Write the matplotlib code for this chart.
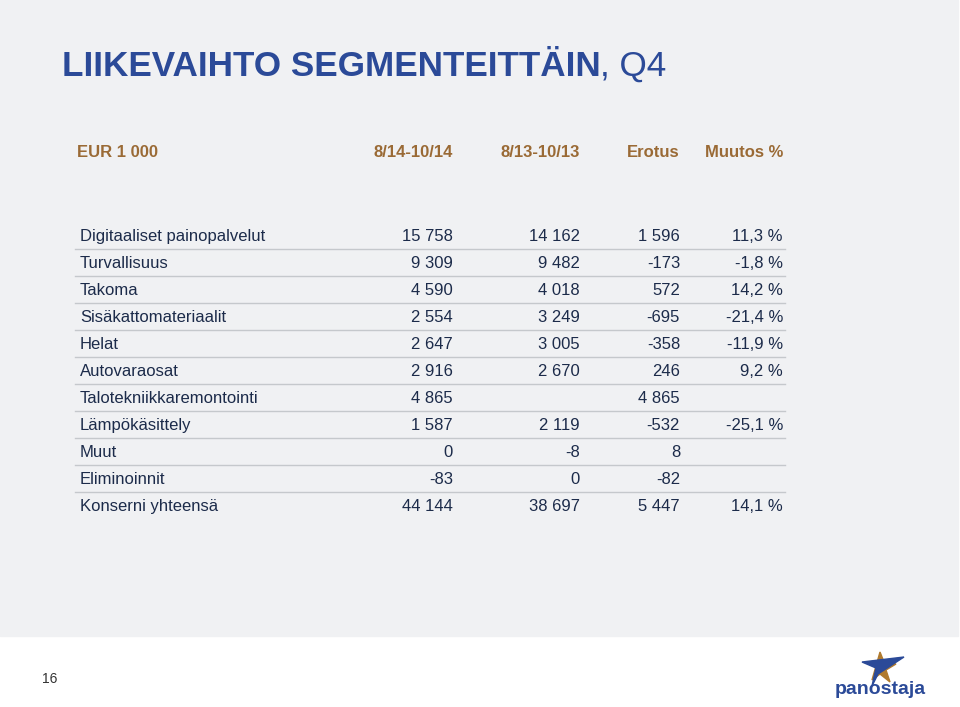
import matplotlib
matplotlib.use('Agg')
import matplotlib.pyplot as plt
from matplotlib.patches import Rectangle, Polygon

W, H = 960, 707

headers = ['EUR 1 000', '8/14-10/14', '8/13-10/13', 'Erotus', 'Muutos %']
segments = ['Digitaaliset painopalvelut', 'Turvallisuus', 'Takoma', 'Sisäkattomateriaalit',
            'Helat', 'Autovaraosat', 'Talotekniikkaremontointi', 'Lämpökäsittely',
            'Muut', 'Eliminoinnit', 'Konserni yhteensä']
q4_2014 = ['15 758', '9 309', '4 590', '2 554', '2 647', '2 916', '4 865', '1 587', '0', '-83', '44 144']
q4_2013 = ['14 162', '9 482', '4 018', '3 249', '3 005', '2 670', '', '2 119', '-8', '0', '38 697']
erotus = ['1 596', '-173', '572', '-695', '-358', '246', '4 865', '-532', '8', '-82', '5 447']
muutos = ['11,3 %', '-1,8 %', '14,2 %', '-21,4 %', '-11,9 %', '9,2 %', '', '-25,1 %', '', '', '14,1 %']

blue = '#2b4a98'
brown = '#9a6a35'
navy = '#1c2b4a'

fig = plt.figure(figsize=(W / 100, H / 100), dpi=100)
ax = fig.add_axes([0, 0, 1, 1])
ax.set_xlim(0, W)
ax.set_ylim(H, 0)
ax.axis('off')
fig.patch.set_facecolor('white')

ax.add_patch(Rectangle((0, 0), 958, 636, color='#f0f1f3', zorder=0))

ax.text(62, 76, 'LIIKEVAIHTO SEGMENTEITTÄIN', color=blue, fontsize=25.3, fontweight='bold',
        va='baseline', ha='left', family='Liberation Sans')
ax.text(600, 76, ', Q4', color=blue, fontsize=25.3, va='baseline', ha='left', family='Liberation Sans')

col_x = [453, 580, 680, 783]
ax.text(77, 157, headers[0], color=brown, fontsize=12, fontweight='bold', va='baseline',
        family='Liberation Sans')
for x, h in zip(col_x, headers[1:]):
    ax.text(x, 157, h, color=brown, fontsize=12, fontweight='bold', va='baseline', ha='right',
            family='Liberation Sans')

y0, dy = 235, 27
cols = [q4_2014, q4_2013, erotus, muutos]
for i, name in enumerate(segments):
    y = y0 + i * dy + 6
    ax.text(80, y, name, color=navy, fontsize=12, va='baseline', family='Liberation Sans')
    for x, c in zip(col_x, cols):
        ax.text(x, y, c[i], color=navy, fontsize=12, va='baseline', ha='right',
                family='Liberation Sans')
    if i < len(segments) - 1:
        ax.plot([75, 785], [y + 7.5, y + 7.5], color='#c5c8cc', lw=1)

ax.text(50, 679, '16', fontsize=10, ha='center', va='center', color='#333333',
        family='Liberation Sans')

# logo
ax.add_patch(Polygon([(880, 652), (884, 662), (896, 664), (886, 670), (890, 682), (880, 674),
                      (872, 680)], color='#b07a2e'))
ax.add_patch(Polygon([(862, 662), (904, 657), (878, 674), (872, 686), (876, 668)], color=blue))
ax.text(880, 690, 'panostaja', color=blue, fontsize=14, fontweight='bold', ha='center',
        va='center', family='Liberation Sans')

fig.savefig('out.png', dpi=100)
